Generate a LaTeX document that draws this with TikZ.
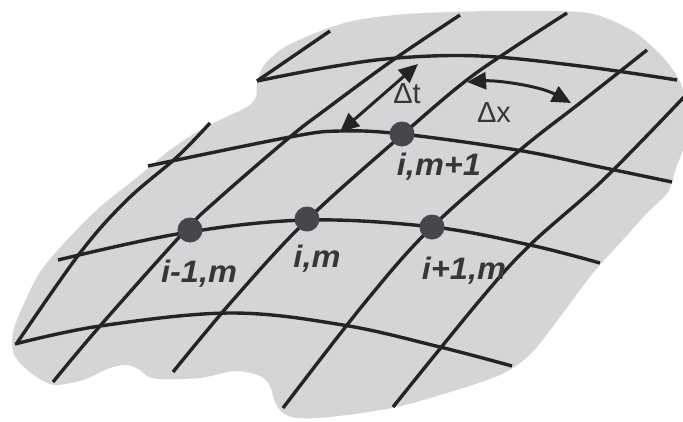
\documentclass[tikz,border=0pt]{standalone}
\usepackage{fontspec}
\setmainfont{Liberation Sans}
\usetikzlibrary{arrows.meta}
\definecolor{blobgray}{RGB}{213,213,215}
\definecolor{linegray}{RGB}{36,36,38}
\definecolor{dotgray}{RGB}{70,70,75}
\definecolor{txtgray}{RGB}{55,55,58}
\begin{document}
\begin{tikzpicture}[x=1pt,y=-1pt,
  gridline/.style={draw=linegray,line width=3.4pt},
  dotnode/.style={circle,fill=dotgray,minimum size=25pt,inner sep=0pt},
  lbl/.style={text=txtgray,font=\fontsize{31}{33}\selectfont\bfseries\itshape,inner sep=0pt,xscale=1.05},
  dlbl/.style={text=txtgray,font=\fontsize{29}{31}\selectfont,inner sep=0pt},
  dblarrow/.style={draw=linegray,line width=3pt,{Triangle[length=19pt,width=17pt]}-{Triangle[length=19pt,width=17pt]}}]
\useasboundingbox (0,0) rectangle (683,421);
% blob
\fill[blobgray] plot[smooth cycle,tension=0.5] coordinates {
 (265,64) (285,47) (323,30) (357,20) (407,14) (490,11) (580,12) (613,21) (640,36)
 (667,62) (683,90) (685,140) (676,168) (668,192) (647,213) (620,243) (593,273)
 (563,313) (537,347) (520,363) (500,375) (463,388) (397,407) (330,417) (297,418)
 (283,413) (275,402) (270,386) (260,376) (235,371) (200,378) (160,379) (147,376)
 (140,370) (127,365) (110,368) (83,380) (55,385) (38,378) (22,365) (13,352)
 (13,332) (22,308) (40,272) (67,240) (100,207) (140,175) (170,150) (200,130)
 (222,119) (247,107) (256,97) (257,82)};
% rows
\draw[gridline] plot[smooth,tension=0.6] coordinates {(257,81) (330,67) (397,58) (480,56) (580,66) (677,80)};
\draw[gridline] plot[smooth,tension=0.6] coordinates {(148,166) (290,137) (340,131) (402,134) (517,150) (600,167) (672,182)};
\draw[gridline] plot[smooth,tension=0.6] coordinates {(58,260) (183,233) (307,220) (433,227) (530,245) (600,263)};
\draw[gridline] plot[smooth,tension=0.6] coordinates {(15,344) (100,326) (230,313) (343,325) (440,347) (512,366)};
% diagonals
\draw[gridline] (257,81) -- (330,31);
\draw[gridline] plot[smooth,tension=0.6] coordinates {(210,123) (177,157) (127,200) (80,253) (17,343)};
\draw[gridline] plot[smooth,tension=0.6] coordinates {(460,15) (393,60) (325,110) (290,137) (217,200) (183,233) (100,326) (53,382)};
\draw[gridline] plot[smooth,tension=0.6] coordinates {(567,13) (510,50) (463,83) (402,135) (307,220) (233,300) (173,372)};
\draw[gridline] plot[smooth,tension=0.6] coordinates {(647,50) (580,103) (520,150) (432,227) (367,300) (283,408)};
\draw[gridline] plot[smooth,tension=0.6] coordinates {(684,97) (603,180) (530,245) (480,300) (393,407)};
% arrows
\coordinate (dta) at (418,64);
\coordinate (dtb) at (340,132);
\coordinate (dxa) at (467,82);
\coordinate (dxb) at (571,103);
\draw[dblarrow] (dtb) -- (dta);
\draw[dblarrow] (dxa) .. controls (497,80) and (540,86) .. (dxb);
\node[dlbl] (dt) at (407,94) {Δt};
\node[dlbl] (dx) at (494,113) {Δx};
% dots
\node[dotnode] (im1) at (402,134) {};
\node[dotnode] (imm) at (190,230) {};
\node[dotnode] (im) at (307,219) {};
\node[dotnode] (ipm) at (432,227) {};
% labels
\node[lbl] (lim1) at (439,167) {i,m+1};
\node[lbl] (limm) at (199,274) {i-1,m};
\node[lbl] (lim) at (317,259) {i,m};
\node[lbl] (lipm) at (464,271) {i+1,m};
\end{tikzpicture}
\end{document}
